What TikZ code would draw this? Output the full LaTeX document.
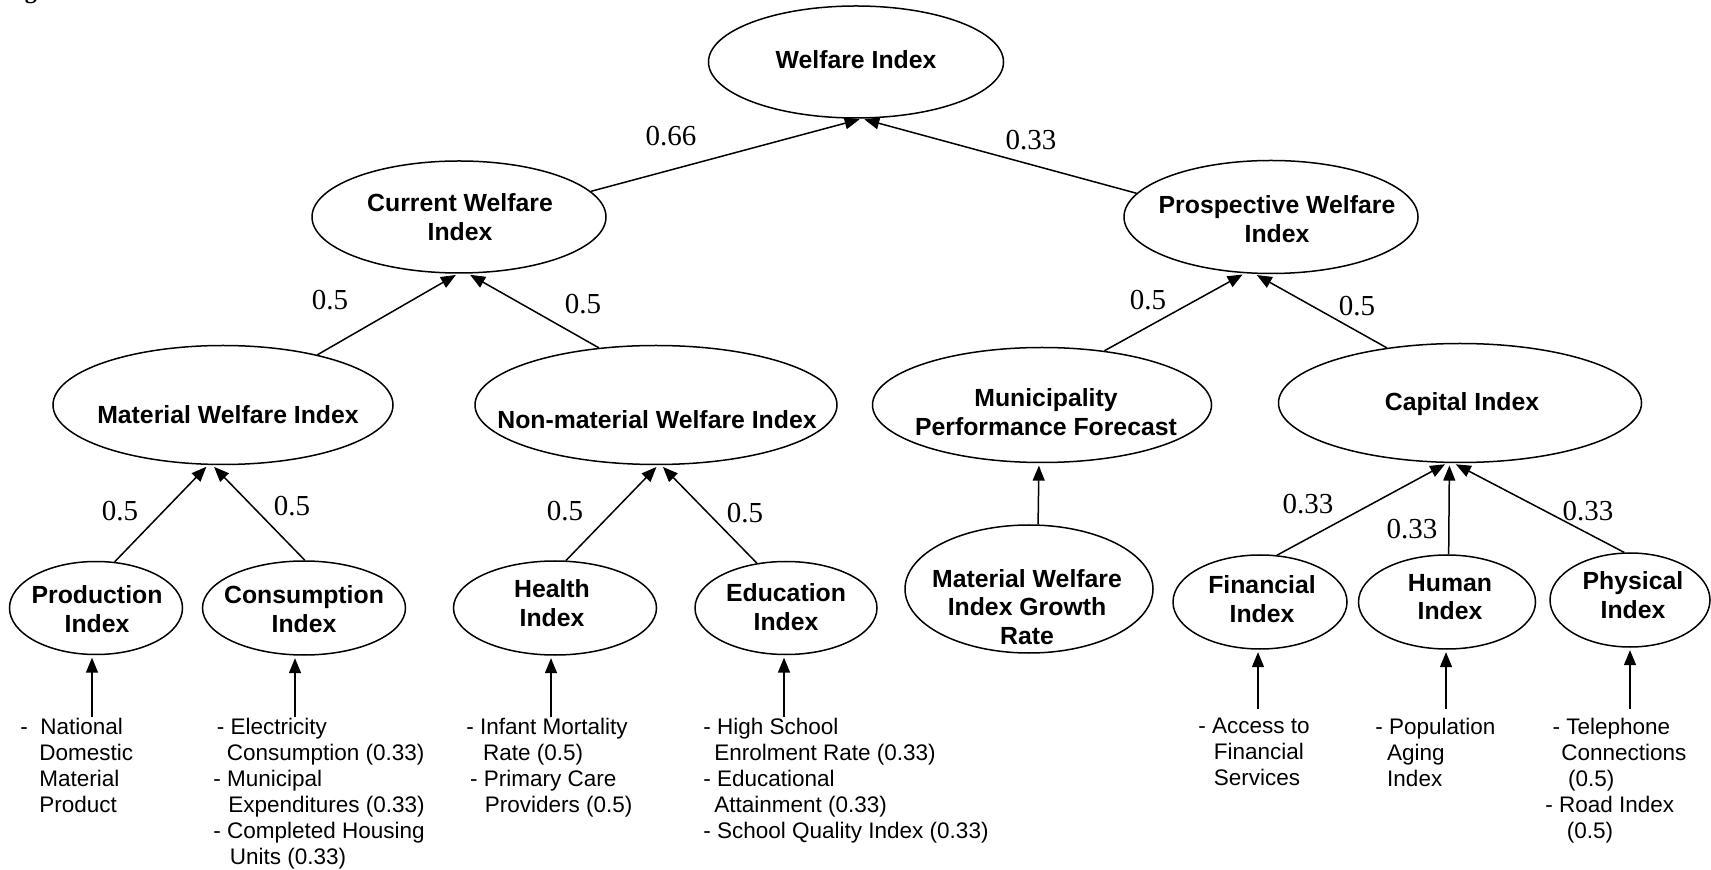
\documentclass[tikz,border=0pt]{standalone}
\usepackage{fontspec}
\setmainfont{Liberation Sans}
\newfontfamily\wtfont{Liberation Serif}
\usetikzlibrary{shapes.geometric,arrows.meta}

\begin{document}
\begin{tikzpicture}[x=0.5pt, y=-0.5pt,
  ell/.style 2 args={draw, ellipse, line width=0.75pt, inner sep=0pt,
    minimum width=#1*0.5pt, minimum height=#2*0.5pt},
  ttl/.style={align=center, inner sep=0pt, font=\fontsize{12.4}{14.4}\selectfont\bfseries},
  lst/.style={align=left, anchor=north west, inner sep=0pt, font=\fontsize{11.25}{13}\selectfont},
  wt/.style={inner sep=0pt, font=\fontsize{14.5}{16}\selectfont\wtfont},
  up/.style={-{Triangle[length=7.5pt,width=6pt]}, line width=0.75pt, shorten >=1.2pt}]
  \useasboundingbox (0,0) rectangle (1711,870);
  \node[anchor=base, inner sep=0pt, font=\fontsize{12}{14}\selectfont\wtfont\bfseries] (fig) at (31,-1.5) {g};

  % ellipses
  \node[ell={295}{112}] (wi) at (856,62) {};
  \node[ell={294}{112}] (cwi) at (459,217) {};
  \node[ell={294}{113}] (pwi) at (1271,217) {};
  \node[ell={340}{119}] (mwi) at (223,405) {};
  \node[ell={362}{119}] (nmwi) at (656,405) {};
  \node[ell={339}{115}] (mpf) at (1042,405) {};
  \node[ell={363}{119}] (cap) at (1460,403) {};
  \node[ell={248}{128}] (mwigr) at (1029,589) {};
  \node[ell={173}{93}] (prod) at (96,608) {};
  \node[ell={203}{94}] (cons) at (304,608) {};
  \node[ell={203}{94}] (hlt) at (555,608) {};
  \node[ell={182}{93}] (edu) at (786,608) {};
  \node[ell={174}{94}] (fin) at (1260,602) {};
  \node[ell={177}{94}] (hum) at (1447,602) {};
  \node[ell={160}{94}] (phy) at (1630,600) {};

  \node[ttl] (wi-t) at (856,60) {Welfare Index};
  \node[ttl] (cwi-t) at (460,217) {Current Welfare\\Index};
  \node[ttl] (pwi-t) at (1277,219) {Prospective Welfare\\Index};
  \node[ttl] (mwi-t) at (228,415) {Material Welfare Index};
  \node[ttl] (nmwi-t) at (657,420) {Non-material Welfare Index};
  \node[ttl] (mpf-t) at (1046,412) {Municipality\\Performance Forecast};
  \node[ttl] (cap-t) at (1462,404.5) {Capital Index};
  \node[ttl] (mwigr-t) at (1027,607) {Material Welfare\\Index Growth\\Rate};
  \node[ttl] (prod-t) at (97,609) {Production\\Index};
  \node[ttl] (cons-t) at (304,609) {Consumption\\Index};
  \node[ttl] (hlt-t) at (552,603) {Health\\Index};
  \node[ttl] (edu-t) at (786,607) {Education\\Index};
  \node[ttl] (fin-t) at (1262,599) {Financial\\Index};
  \node[ttl] (hum-t) at (1450,597) {Human\\Index};
  \node[ttl] (phy-t) at (1633,595) {Physical\\Index};

  % weights
  \draw[up] (cwi.11) -- (wi.276);
  \draw[up] (pwi.170) -- (wi.276);
  \draw[up] (mwi.28) -- (cwi.269);
  \draw[up] (nmwi.135) -- (cwi.279);
  \draw[up] (mpf.41) -- (pwi.245);
  \draw[up] (cap.143) -- (pwi.254);
  \draw[up] (prod.68) -- (mwi.256);
  \draw[up] (cons.89) -- (mwi.260);
  \draw[up] (hlt.77) -- (nmwi.272);
  \draw[up] (edu.123) -- (nmwi.275);
  \draw[up] (mwigr.82) -- (mpf.267);
  \draw[up] (fin.70) -- (cap.258);
  \draw[up] (hum.88) -- (cap.260);
  \draw[up] (phy.97) -- (cap.264);

  \node[wt] (w-cwi) at (671,136) {0.66};
  \node[wt] (w-pwi) at (1031,140) {0.33};
  \node[wt] (w-mwi) at (330,300) {0.5};
  \node[wt] (w-nmwi) at (583,304) {0.5};
  \node[wt] (w-mpf) at (1148,300) {0.5};
  \node[wt] (w-cap) at (1357,306) {0.5};
  \node[wt] (w-prod) at (120,511) {0.5};
  \node[wt] (w-cons) at (292,506) {0.5};
  \node[wt] (w-hlt) at (565,511) {0.5};
  \node[wt] (w-edu) at (745,513) {0.5};
  \node[wt] (w-fin) at (1308,504) {0.33};
  \node[wt] (w-hum) at (1412,529) {0.33};
  \node[wt] (w-phy) at (1588,511) {0.33};

  % indicators
  \coordinate (prod-in) at (92,717);
  \coordinate (cons-in) at (295,717);
  \coordinate (hlt-in) at (551,717);
  \coordinate (edu-in) at (784,717);
  \coordinate (fin-in) at (1258,709);
  \coordinate (hum-in) at (1446,709);
  \coordinate (phy-in) at (1630,709);
  \foreach \n in {prod,cons,hlt,edu,fin,hum,phy}
    \draw[up] (\n-in) -- (\n-in |- \n.south);

  \node[lst] (prod-l) at (20,718) {-\hspace{6.2pt}National\\\hspace*{9.5pt}Domestic\\
    \hspace*{9.5pt}Material\\\hspace*{9.5pt}Product};
  \node[lst] (cons-l) at (213,718) {\hspace*{1.7pt}- Electricity\\\hspace*{6.7pt}Consumption (0.33)\\
    - Municipal\\\hspace*{7.5pt}Expenditures (0.33)\\- Completed Housing\\\hspace*{8.2pt}Units (0.33)};
  \node[lst] (hlt-l) at (466,718) {- Infant Mortality\\\hspace*{8.3pt}Rate (0.5)\\
    \hspace*{1.85pt}- Primary Care\\\hspace*{9.25pt}Providers (0.5)};
  \node[lst] (edu-l) at (703,718) {- High School\\\hspace*{5.5pt}Enrolment Rate (0.33)\\
    - Educational\\\hspace*{5.5pt}Attainment (0.33)\\- School Quality Index (0.33)};
  \node[lst] (fin-l) at (1198,718) {- Access to\\\hspace*{7.7pt}Financial\\\hspace*{7.7pt}Services};
  \node[lst] (hum-l) at (1375,718) {- Population\\\hspace*{5.9pt}Aging\\\hspace*{5.9pt}Index};
  \node[lst] (phy-l) at (1545,718) {\hspace*{3.6pt}- Telephone\\\hspace*{8pt}Connections\\
    \hspace*{11.3pt}(0.5)\\- Road Index\\\hspace*{10.75pt}(0.5)};
\end{tikzpicture}
\end{document}
